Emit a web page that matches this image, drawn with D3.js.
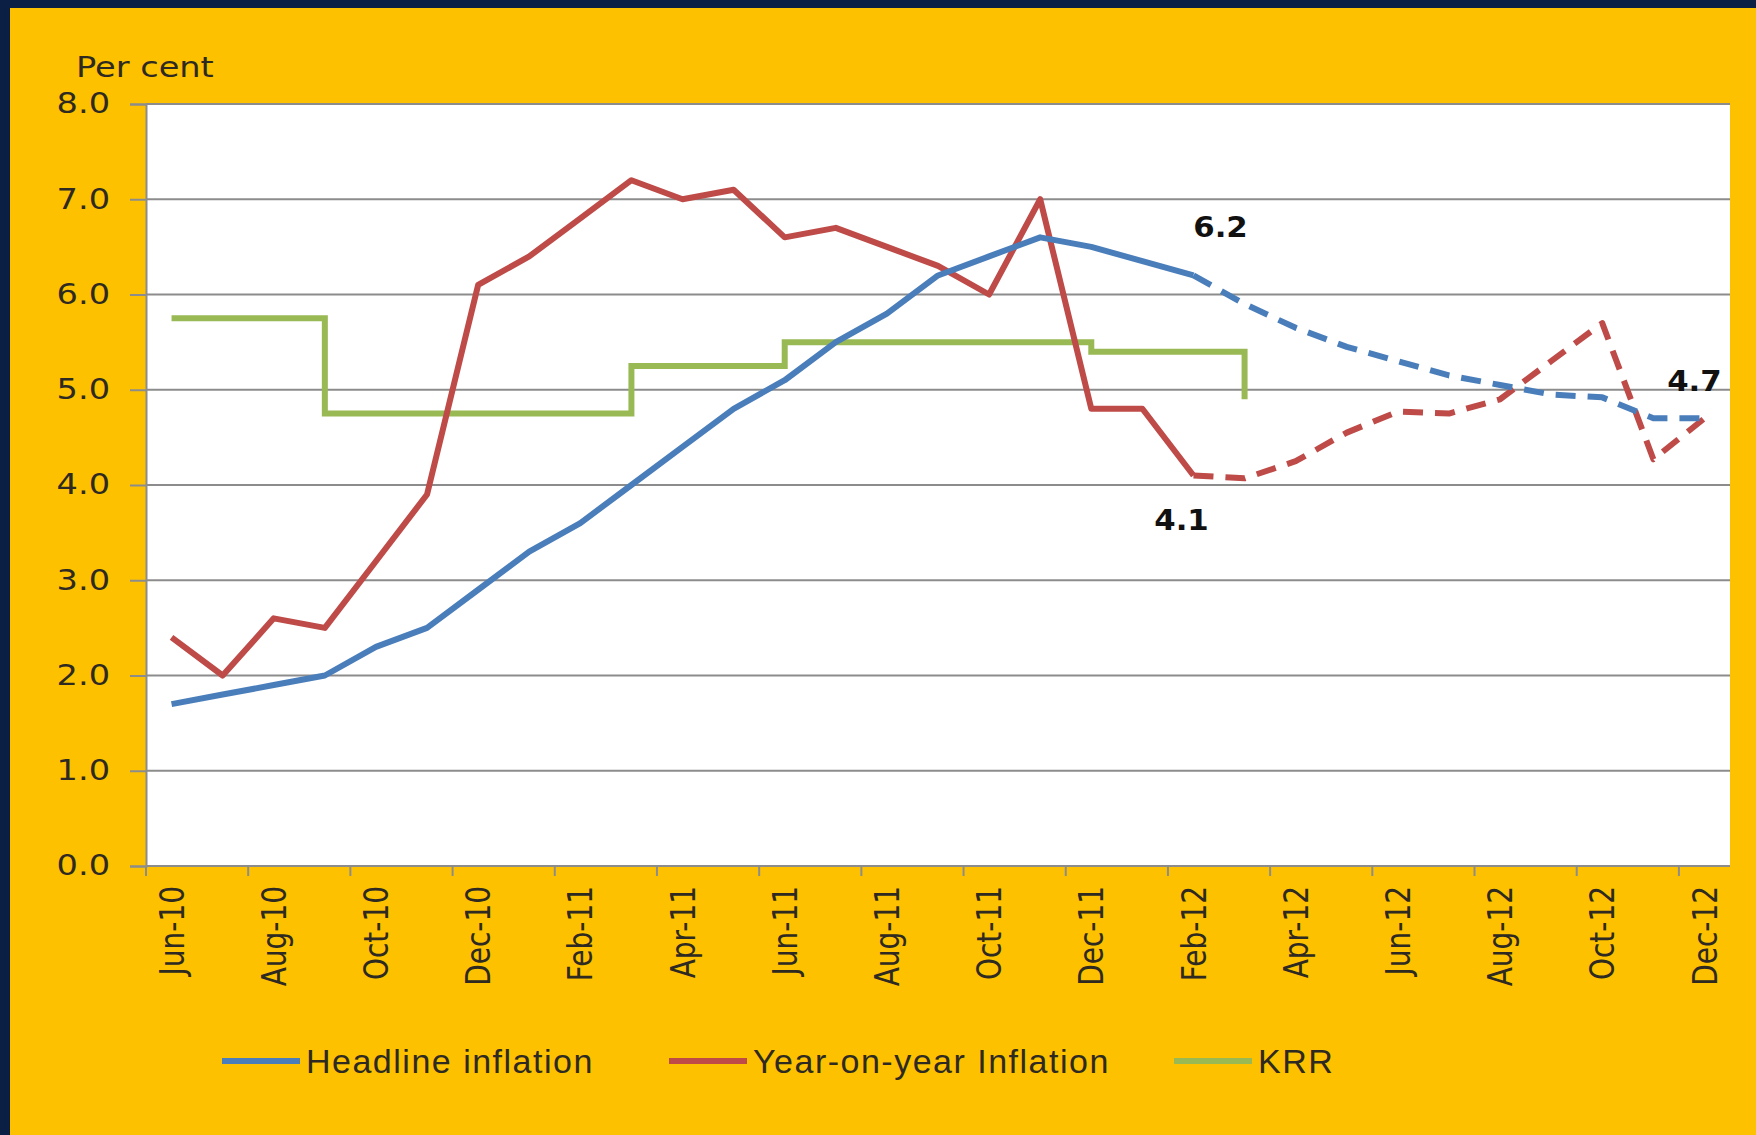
<!DOCTYPE html>
<html>
<head>
<meta charset="utf-8">
<script src="https://cdn.jsdelivr.net/npm/d3@7"></script>
<style>
  html, body { margin: 0; padding: 0; background: #0b1f45; }
  svg { display: block; }
  .tick-label { font-family: "DejaVu Sans", Verdana, sans-serif; font-size: 28px; fill: #2e2a22; }
  .legend-label { font-family: "Liberation Sans", Arial, sans-serif; font-size: 34px; fill: #2e2a22; }
  .note { font-family: "DejaVu Sans", Verdana, sans-serif; font-size: 28px; font-weight: bold; fill: #111; }
</style>
</head>
<body>
<div id="chart"></div>
<script>
const months = [
  "Jun-10", "Jul-10", "Aug-10", "Sep-10", "Oct-10", "Nov-10", "Dec-10",
  "Jan-11", "Feb-11", "Mar-11", "Apr-11", "May-11", "Jun-11", "Jul-11",
  "Aug-11", "Sep-11", "Oct-11", "Nov-11", "Dec-11", "Jan-12", "Feb-12",
  "Mar-12", "Apr-12", "May-12", "Jun-12", "Jul-12", "Aug-12", "Sep-12",
  "Oct-12", "Nov-12", "Dec-12"
];

const headline = [
  1.7, 1.8, 1.9, 2.0, 2.3, 2.5, 2.9, 3.3, 3.6, 4.0, 4.4, 4.8, 5.1, 5.5,
  5.8, 6.2, 6.4, 6.6, 6.5, 6.35, 6.2, 5.9, 5.65, 5.45, 5.3, 5.15, 5.05,
  4.95, 4.92, 4.7, 4.7
];

const yearOnYear = [
  2.4, 2.0, 2.6, 2.5, 3.2, 3.9, 6.1, 6.4, 6.8, 7.2, 7.0, 7.1, 6.6, 6.7,
  6.5, 6.3, 6.0, 7.0, 4.8, 4.8, 4.1, 4.07, 4.25, 4.55, 4.77, 4.75, 4.9,
  5.3, 5.7, 4.27, 4.7
];

// KRR policy rate, Jun-10 .. Mar-12
const krr = [
  5.75, 5.75, 5.75, 4.75, 4.75, 4.75, 4.75, 4.75, 4.75, 5.25, 5.25, 5.25,
  5.5, 5.5, 5.5, 5.5, 5.5, 5.5, 5.4, 5.4, 5.4, 4.9
];

const forecastStart = "Feb-12";
const yTicks = [0, 1, 2, 3, 4, 5, 6, 7, 8];
const seriesNames = ["Headline inflation", "Year-on-year Inflation", "KRR"];
const seriesColors = ["#4a7ebb", "#be4b48", "#98b954"];

const notes = [
  { month: "Feb-12", value: 6.2, text: "6.2" },
  { month: "Feb-12", value: 4.1, text: "4.1" },
  { month: "Dec-12", value: 4.7, text: "4.7" }
];
const NOTE_OFFSETS = [[27, -38], [-12, 55], [-10, -27]];

const W = 1756, H = 1135;
const PLOT = { left: 146, right: 1730, top: 104, bottom: 866 };
const STRETCH = 1.2; // reference text is drawn horizontally widened

const svg = d3.select("#chart").append("svg")
  .attr("width", W).attr("height", H);

// frame: dark navy edge + yellow panel
svg.append("rect").attr("width", W).attr("height", H).attr("fill", "#0b1f45");
svg.append("rect").attr("x", 10).attr("y", 8).attr("width", W - 10).attr("height", H - 8)
  .attr("fill", "#fdc100");

svg.append("rect")
  .attr("x", PLOT.left).attr("y", PLOT.top)
  .attr("width", PLOT.right - PLOT.left).attr("height", PLOT.bottom - PLOT.top)
  .attr("fill", "#ffffff");

const x = d3.scaleBand().domain(months).range([PLOT.left, PLOT.right]).padding(0);
const y = d3.scaleLinear().domain([0, 8]).range([PLOT.bottom, PLOT.top]);
const cx = (m) => x(m) + x.bandwidth() / 2;

// gridlines
svg.append("g").selectAll("line").data(yTicks.filter(d => d > 0)).enter().append("line")
  .attr("x1", PLOT.left).attr("x2", PLOT.right)
  .attr("y1", d => y(d)).attr("y2", d => y(d))
  .attr("stroke", "#8c8c8c").attr("stroke-width", 2);

// y axis
const yAxis = svg.append("g").attr("transform", `translate(${PLOT.left},0)`)
  .call(d3.axisLeft(y).tickValues(yTicks).tickFormat(d3.format(".1f")).tickSize(16));
yAxis.select(".domain").attr("stroke", "#8c8c8c").attr("stroke-width", 2);
yAxis.selectAll(".tick line").attr("stroke", "#8c8c8c").attr("stroke-width", 2);
yAxis.selectAll(".tick text")
  .attr("class", "tick-label")
  .attr("font-size", null).attr("font-family", null)
  .attr("x", 0)
  .attr("transform", `translate(-36,0) scale(${STRETCH},1)`);

// x axis: ticks at every second band boundary
const tickMonths = months.filter((m, i) => i % 2 === 0);
const xAxisG = svg.append("g");
xAxisG.append("line")
  .attr("x1", PLOT.left).attr("x2", PLOT.right)
  .attr("y1", PLOT.bottom).attr("y2", PLOT.bottom)
  .attr("stroke", "#8c8c8c").attr("stroke-width", 2);
xAxisG.selectAll("line.tick").data(tickMonths).enter().append("line")
  .attr("class", "tick")
  .attr("x1", d => x(d)).attr("x2", d => x(d))
  .attr("y1", PLOT.bottom).attr("y2", PLOT.bottom + 10)
  .attr("stroke", "#8c8c8c").attr("stroke-width", 2);
xAxisG.selectAll("text").data(tickMonths).enter().append("text")
  .attr("class", "tick-label")
  .attr("text-anchor", "end")
  .attr("dy", "0.36em")
  .attr("transform", d => `translate(${cx(d)},${PLOT.bottom + 20}) rotate(-90) scale(1,${STRETCH})`)
  .text(d => d);

// y title
svg.append("text").attr("class", "tick-label")
  .attr("transform", `translate(76,77) scale(${STRETCH},1)`)
  .text("Per cent");

// series lines
const splitIdx = months.indexOf(forecastStart);
const line = d3.line().x((d) => cx(d.m)).y((d) => y(d.v));
const stepLine = d3.line().x((d) => cx(d.m)).y((d) => y(d.v)).curve(d3.curveStepAfter);

function drawSeries(values, color) {
  const pts = values.map((v, i) => ({ m: months[i], v }));
  svg.append("path").datum(pts.slice(0, splitIdx + 1))
    .attr("d", line).attr("fill", "none")
    .attr("stroke", color).attr("stroke-width", 6).attr("stroke-linejoin", "round");
  svg.append("path").datum(pts.slice(splitIdx))
    .attr("d", line).attr("fill", "none")
    .attr("stroke", color).attr("stroke-width", 6)
    .attr("stroke-dasharray", "20 12").attr("stroke-linejoin", "round");
}

svg.append("path").datum(krr.map((v, i) => ({ m: months[i], v })))
  .attr("d", stepLine).attr("fill", "none")
  .attr("stroke", seriesColors[2]).attr("stroke-width", 6);

drawSeries(yearOnYear, seriesColors[1]);
drawSeries(headline, seriesColors[0]);

// value notes
svg.selectAll("text.note").data(notes).enter().append("text")
  .attr("class", "note")
  .attr("text-anchor", "middle")
  .attr("transform", (d, i) =>
    `translate(${cx(d.month) + NOTE_OFFSETS[i][0]},${y(d.value) + NOTE_OFFSETS[i][1]}) scale(1.1,1)`)
  .text(d => d.text);

// legend
const legendX = [222, 669, 1174];
const legendY = 1061;
const legend = svg.append("g").selectAll("g").data(seriesNames).enter().append("g")
  .attr("transform", (d, i) => `translate(${legendX[i]},${legendY})`);
legend.append("line")
  .attr("x1", 0).attr("x2", 78).attr("y1", 0).attr("y2", 0)
  .attr("stroke", (d, i) => seriesColors[i]).attr("stroke-width", 6);
legend.append("text")
  .attr("class", "legend-label")
  .attr("x", 84).attr("dy", "0.36em").attr("letter-spacing", 1.5)
  .text(d => d);
</script>
</body>
</html>
